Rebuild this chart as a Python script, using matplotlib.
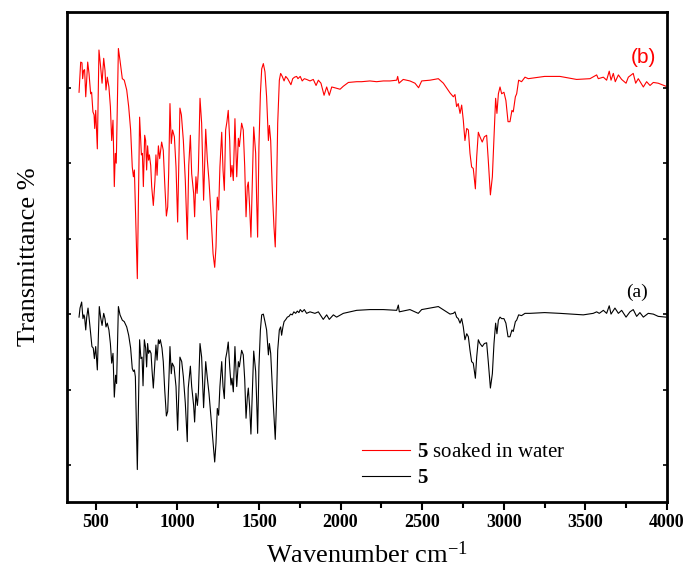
import matplotlib
matplotlib.use("Agg")
import matplotlib.pyplot as plt
from matplotlib.ticker import MultipleLocator

plt.rcParams['font.family'] = ['Liberation Serif', 'DejaVu Serif']
plt.rcParams['mathtext.fontset'] = 'custom'
plt.rcParams['mathtext.rm'] = 'Liberation Serif'
plt.rcParams['mathtext.bf'] = 'Liberation Serif:bold'
plt.rcParams['mathtext.it'] = 'Liberation Serif:italic'

# ---- data (wavenumber, relative transmittance) ----
wn_b = [398, 408, 416, 420, 426, 432, 439, 445, 451, 459, 469, 475, 483, 490, 494, 500, 510, 520, 530, 539,
        549, 557, 563, 571, 581, 590, 598, 606, 614, 620, 626, 639, 649, 663, 675, 690, 702, 714, 724, 731,
        737, 755, 769, 780, 786, 792, 800, 806, 812, 818, 824, 829, 837, 843, 853, 863, 869, 876, 884, 892,
        904, 914, 923, 933, 941, 947, 955, 963, 971, 982, 992, 1002, 1016, 1025, 1037, 1049, 1061, 1070, 1080, 1088,
        1100, 1106, 1114, 1121, 1129, 1139, 1149, 1161, 1174, 1184, 1194, 1206, 1219, 1229, 1237, 1245, 1253, 1261, 1272, 1280,
        1288, 1296, 1304, 1312, 1321, 1327, 1335, 1343, 1353, 1364, 1374, 1380, 1394, 1404, 1413, 1421, 1429, 1435, 1443, 1451,
        1460, 1468, 1480, 1486, 1492, 1500, 1509, 1517, 1527, 1537, 1547, 1558, 1564, 1572, 1582, 1592, 1600, 1607, 1615, 1625,
        1633, 1643, 1654, 1664, 1676, 1686, 1696, 1707, 1718, 1731, 1739, 1753, 1765, 1778, 1792, 1813, 1833, 1850, 1864, 1880,
        1899, 1915, 1931, 1946, 1964, 1997, 2017, 2048, 2099, 2129, 2180, 2221, 2262, 2303, 2344, 2350, 2358, 2384, 2425, 2456,
        2478, 2497, 2548, 2599, 2630, 2671, 2691, 2701, 2711, 2721, 2732, 2742, 2752, 2762, 2773, 2783, 2793, 2803, 2813, 2826,
        2834, 2844, 2854, 2868, 2881, 2895, 2905, 2918, 2930, 2940, 2950, 2958, 2967, 2977, 2987, 3001, 3013, 3026, 3038, 3050,
        3058, 3071, 3079, 3091, 3109, 3130, 3150, 3250, 3344, 3446, 3528, 3569, 3579, 3610, 3630, 3646, 3657, 3671, 3683, 3702,
        3722, 3749, 3763, 3793, 3808, 3824, 3855, 3875, 3896, 3916, 3946, 3993]
t_b = [49.4, 53.4, 53.3, 51.2, 52.3, 52.4, 48.8, 51.0, 53.4, 51.9, 49.2, 49.4, 46.8, 46.4, 44.6, 47.0, 41.9, 55.0, 52.8, 50.6,
       53.9, 52.3, 49.7, 51.4, 50.1, 47.5, 43.0, 45.7, 36.9, 41.3, 40.0, 55.2, 53.6, 51.2, 51.0, 49.7, 47.5, 44.4, 39.5, 38.2,
       39.1, 24.7, 46.1, 41.1, 41.3, 36.9, 43.7, 43.0, 39.1, 42.3, 40.4, 41.1, 39.7, 36.9, 34.4, 37.7, 41.1, 38.4, 42.3, 40.6,
       42.8, 41.7, 37.3, 33.0, 34.2, 38.6, 47.9, 42.6, 44.4, 43.5, 39.5, 32.2, 47.3, 46.4, 43.0, 37.7, 29.9, 39.7, 43.7, 38.6,
       36.0, 32.9, 38.2, 36.0, 39.1, 48.6, 45.3, 35.1, 44.5, 40.4, 37.7, 33.3, 28.0, 26.2, 28.9, 35.5, 33.8, 39.5, 44.1, 39.1,
       36.4, 44.4, 45.5, 47.0, 43.0, 38.2, 39.7, 37.7, 45.9, 38.2, 43.3, 42.2, 45.3, 44.4, 39.5, 32.9, 36.9, 37.5, 34.2, 30.2,
       37.7, 44.8, 41.3, 35.1, 30.2, 42.2, 49.2, 52.5, 53.2, 52.1, 48.8, 43.0, 45.0, 43.0, 36.4, 31.6, 28.9, 35.1, 45.3, 51.0,
       51.9, 51.5, 50.9, 51.5, 51.2, 50.8, 50.4, 51.2, 51.4, 51.5, 51.2, 51.5, 50.9, 51.2, 51.1, 50.9, 51.1, 50.3, 51.0, 50.6,
       49.0, 50.1, 49.0, 50.1, 50.0, 49.8, 50.2, 50.7, 50.8, 50.8, 50.9, 50.8, 50.9, 50.9, 51.0, 51.5, 50.6, 51.1, 50.9, 50.6,
       50.0, 50.9, 51.0, 51.2, 50.6, 49.3, 48.8, 49.1, 47.5, 47.9, 46.6, 47.7, 45.7, 43.0, 44.6, 44.4, 41.3, 39.5, 39.3, 36.6,
       40.8, 44.1, 43.5, 42.8, 43.5, 43.7, 40.4, 35.8, 38.2, 43.5, 48.6, 46.6, 49.2, 50.1, 49.2, 49.4, 48.3, 45.5, 45.5, 47.0,
       46.8, 48.8, 49.2, 51.0, 50.8, 51.4, 51.2, 51.5, 51.5, 51.1, 51.2, 51.7, 51.2, 51.4, 51.0, 52.2, 51.0, 51.9, 50.8, 51.7,
       51.1, 50.6, 51.4, 51.9, 50.6, 51.2, 50.1, 50.8, 50.3, 50.7, 50.6, 50.2]

wn_a = [398, 404, 414, 422, 428, 432, 439, 445, 453, 461, 469, 477, 485, 492, 500, 510, 522, 530, 539, 549,
        557, 563, 571, 581, 590, 598, 606, 614, 622, 628, 639, 649, 663, 675, 690, 702, 714, 724, 731, 737,
        743, 755, 769, 777, 784, 790, 798, 806, 812, 818, 824, 831, 839, 845, 853, 861, 869, 876, 884, 890,
        896, 906, 914, 923, 933, 941, 949, 955, 963, 969, 980, 992, 1002, 1016, 1027, 1037, 1049, 1061, 1067, 1080,
        1088, 1100, 1106, 1114, 1123, 1129, 1139, 1149, 1161, 1174, 1184, 1194, 1206, 1219, 1229, 1237, 1245, 1253, 1261, 1272,
        1280, 1288, 1296, 1304, 1312, 1321, 1329, 1335, 1343, 1353, 1364, 1374, 1380, 1394, 1404, 1413, 1421, 1429, 1435, 1443,
        1451, 1460, 1468, 1480, 1486, 1492, 1500, 1509, 1517, 1527, 1537, 1547, 1558, 1564, 1572, 1582, 1592, 1600, 1607, 1615,
        1625, 1633, 1639, 1647, 1654, 1665, 1674, 1684, 1694, 1704, 1714, 1725, 1735, 1745, 1753, 1765, 1778, 1792, 1813, 1843,
        1864, 1894, 1915, 1931, 1956, 1976, 2017, 2099, 2180, 2262, 2344, 2354, 2360, 2425, 2476, 2497, 2599, 2650, 2671, 2691,
        2701, 2711, 2721, 2732, 2742, 2752, 2762, 2773, 2783, 2793, 2803, 2813, 2826, 2834, 2844, 2854, 2868, 2881, 2895, 2905,
        2918, 2930, 2940, 2950, 2958, 2967, 2977, 2987, 3001, 3013, 3026, 3038, 3050, 3058, 3071, 3079, 3091, 3109, 3130, 3160,
        3250, 3344, 3487, 3548, 3569, 3585, 3610, 3630, 3646, 3657, 3681, 3702, 3722, 3749, 3773, 3793, 3814, 3834, 3855, 3885,
        3916, 3946, 3993]
t_a = [19.6, 20.8, 21.6, 19.4, 19.9, 19.6, 17.9, 19.6, 20.8, 19.2, 17.4, 15.7, 15.5, 14.1, 15.7, 12.6, 21.0, 19.6, 18.5, 20.1,
       19.4, 18.3, 18.8, 17.9, 16.1, 13.5, 14.8, 9.0, 11.9, 10.8, 21.0, 19.9, 19.2, 19.0, 18.3, 17.2, 15.5, 12.8, 12.4, 12.6,
       11.7, -0.6, 16.6, 14.1, 14.3, 10.5, 16.6, 15.5, 13.0, 16.1, 14.8, 15.2, 14.8, 12.6, 10.2, 13.0, 15.9, 13.9, 16.6, 16.1,
       16.6, 15.5, 13.7, 9.9, 6.5, 7.1, 11.7, 15.7, 12.1, 13.5, 13.0, 10.4, 4.6, 14.3, 13.7, 11.7, 8.2, 3.1, 10.2, 13.1,
       10.4, 7.9, 5.7, 9.5, 7.9, 9.5, 16.1, 14.3, 7.6, 13.7, 11.5, 9.5, 6.4, 2.9, 0.4, 2.9, 7.5, 6.6, 10.4, 13.7,
       10.4, 8.8, 14.1, 15.0, 16.3, 13.0, 10.6, 11.5, 9.7, 15.7, 10.4, 13.7, 13.0, 15.2, 14.6, 11.3, 6.2, 9.0, 10.2, 7.7,
       4.1, 9.9, 15.1, 12.4, 8.6, 4.2, 13.0, 17.9, 19.9, 20.0, 19.0, 17.9, 14.6, 16.1, 14.8, 10.4, 6.4, 3.4, 7.9, 15.2,
       17.9, 18.3, 17.2, 18.3, 19.0, 19.3, 19.6, 19.7, 20.0, 19.9, 20.3, 20.1, 20.4, 20.2, 20.6, 20.3, 20.6, 20.1, 20.3, 20.1,
       20.3, 19.3, 19.9, 19.3, 19.9, 19.6, 20.1, 20.5, 20.6, 20.6, 20.5, 21.2, 20.3, 20.6, 20.1, 20.6, 21.0, 20.3, 20.0, 20.1,
       20.3, 19.6, 19.4, 18.8, 19.4, 18.3, 16.6, 17.4, 17.0, 15.2, 13.7, 13.5, 11.5, 14.3, 16.6, 16.1, 15.7, 16.1, 16.2, 13.7,
       10.2, 12.1, 16.1, 18.8, 17.4, 19.2, 19.6, 19.4, 19.4, 18.8, 17.0, 17.0, 17.9, 17.7, 19.0, 19.2, 19.9, 19.8, 20.1, 20.1,
       20.2, 20.1, 19.9, 20.1, 20.3, 20.1, 20.5, 20.1, 21.1, 20.0, 20.8, 20.1, 20.5, 19.6, 20.3, 20.6, 19.7, 20.2, 19.6, 20.1,
       20.0, 19.7, 19.6]

label_b = r"$\mathbf{5}$ soaked in water"
label_a = r"$\mathbf{5}$"
x_ticks = [500, 1000, 1500, 2000, 2500, 3000, 3500, 4000]

fig = plt.figure(figsize=(6.88, 5.79), dpi=100)
ax = fig.add_axes([0.0971, 0.1330, 0.8724, 0.8471])

ax.plot(wn_b, t_b, color='#ff0000', lw=0.8, label=label_b)
ax.plot(wn_a, t_a, color='black', lw=0.8, label=label_a)

ax.set_xlim(323, 4000)
ax.set_ylim(-4.9, 60.1)
ax.set_xticks(x_ticks)
ax.xaxis.set_minor_locator(MultipleLocator(250))
ax.set_yticks([0, 10, 20, 30, 40, 50])
ax.set_yticklabels([])

for s in ax.spines.values():
    s.set_linewidth(2)

ax.tick_params(axis='x', which='major', direction='out', length=6, width=1.5, labelsize=13, pad=3)
ax.tick_params(axis='x', which='minor', direction='out', length=4, width=1.5)
ax.tick_params(axis='y', which='major', direction='in', length=3, width=1.2, left=True, right=True)
for lab in ax.get_xticklabels():
    lab.set_fontweight('bold')

ax.set_xlabel(r"Wavenumber cm$^{-1}$", fontsize=19, labelpad=7)
ax.set_ylabel("Transmittance %", fontsize=19, labelpad=16)

ax.text(0.960, 0.907, "(b)", transform=ax.transAxes, color='#ff0000', fontsize=15,
        family=['Liberation Sans', 'DejaVu Sans'], ha='center', va='center')
ax.text(0.950, 0.428, "(a)", transform=ax.transAxes, color='black', fontsize=14,
        ha='center', va='center')

ax.legend(loc='center left', bbox_to_anchor=(0.4918, 0.0745), frameon=False,
          fontsize=15, handlelength=2.3, handletextpad=0.35, labelspacing=0.3,
          borderpad=0, borderaxespad=0)

fig.savefig("out.png", dpi=100)
